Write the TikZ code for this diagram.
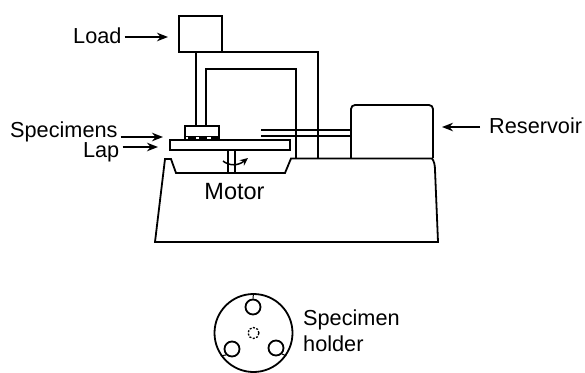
\documentclass[tikz,border=0pt]{standalone}
\usepackage{fontspec}
\setmainfont{Liberation Sans}
\usetikzlibrary{arrows.meta, positioning, calc}
\tikzset{
    part/.style={line width=1.8pt},
    partbox/.style={draw, line width=1.8pt, minimum width=0, inner sep=0pt},
    smallring/.style={circle, draw, line width=1.8pt, minimum size=15pt, inner sep=0pt},
    labeltext/.style={font=\fontsize{21.7}{24}\selectfont, inner sep=0pt},
    pointer/.style={-{Stealth[length=11pt,width=8.5pt]}, line width=1.8pt}
}
\begin{document}
\begin{tikzpicture}[x=1pt, y=-1pt]
    \useasboundingbox (0,0) rectangle (585,372);
    % load and frame
    \node[partbox, minimum width=43pt, minimum height=36pt] (loadbox) at (200.5,34) {};
    \node[labeltext, anchor=base west] (loadlabel) at (73,43) {Load};
    \coordinate (loadtip) at (168,37);
    \draw[pointer] (loadlabel.east |- loadtip) ++(3,0) -- (loadtip);
    \draw[part] (196,52) -- (196,126);
    \draw[part] (222,52) -- (318,52) -- (318,158);
    \draw[part] (206,126) -- (206,69) -- (296,69) -- (296,158);
    % specimen holder, specimens and lap
    \node[partbox, minimum width=34pt, minimum height=14pt] (holderbar) at (202,133) {};
    \draw[line width=1pt] (holderbar.west |- 0,136) -- (holderbar.east |- 0,136);
    \foreach \x in {188,199,211}
        \fill (\x,137) rectangle (\x+7.5,140);
    \node[partbox, minimum width=120pt, minimum height=10pt] (lapdisc) at (230,145) {};
    \node[labeltext, anchor=base west] (specimenslabel) at (10,137) {Specimens};
    \node[labeltext, anchor=base east] (laplabel) at (119.5,157) {Lap};
    \coordinate (specimenstip) at (163,137);
    \coordinate (laptip) at (158,147);
    \draw[pointer] (specimenslabel.east |- specimenstip) ++(3,0) -- (specimenstip);
    \draw[pointer] (laplabel.east |- laptip) ++(3,0) -- (laptip);
    % shaft
    \draw[part] (228,150) -- (228,173);
    \draw[part] (235,150) -- (235,173);
    \draw[-{Stealth[length=8pt,width=7pt]}, line width=1.5pt] (223,161) .. controls (229,166) and (238,166) .. (248,158);
    % base
    \draw[part] (165,159) -- (171,159) -- (176,173) -- (285,173) -- (291,158.5) -- (432,158.5)
        .. controls (434,161) and (435,165) .. (435,170) -- (438,242) -- (155,242) -- cycle;
    \node[labeltext, font=\fontsize{23.5}{26}\selectfont, anchor=base] (motorlabel) at (234.5,199) {Motor};
    % reservoir and tube
    \draw[part, rounded corners=4pt] (351,158) -- (351,105) -- (433,105) -- (433,158);
    \draw[part] (261,130) -- (351,130);
    \draw[part] (261,136) -- (351,136);
    \node[labeltext, anchor=base west] (reservoirlabel) at (489,133) {Reservoir};
    \coordinate (reservoirtip) at (442,127);
    \draw[pointer] (reservoirlabel.west |- reservoirtip) ++(-9,0) -- (reservoirtip);
    % holder seen from above
    \node[circle, draw, line width=1.8pt, minimum size=78pt, inner sep=0pt] (plate) at (253.5,333) {};
    \node[smallring] (topring) at (253,307) {};
    \node[smallring] (leftring) at (232,349) {};
    \node[smallring] (rightring) at (276,348) {};
    \node[circle, draw, line width=1.3pt, dash pattern=on 2pt off 1.5pt, minimum size=11pt, inner sep=0pt] (pivot) at (253.5,333) {};
    \draw[line width=1pt] (topring.north) -- (plate.north);
    \draw[line width=1pt] (leftring.south west) -- (plate.-145);
    \draw[line width=1pt] (rightring.south east) -- (plate.-35);
    \node[labeltext, anchor=base west] (holdertexta) at (303,325) {Specimen};
    \node[labeltext, anchor=base west] (holdertextb) at (303,351) {holder};
\end{tikzpicture}
\end{document}
